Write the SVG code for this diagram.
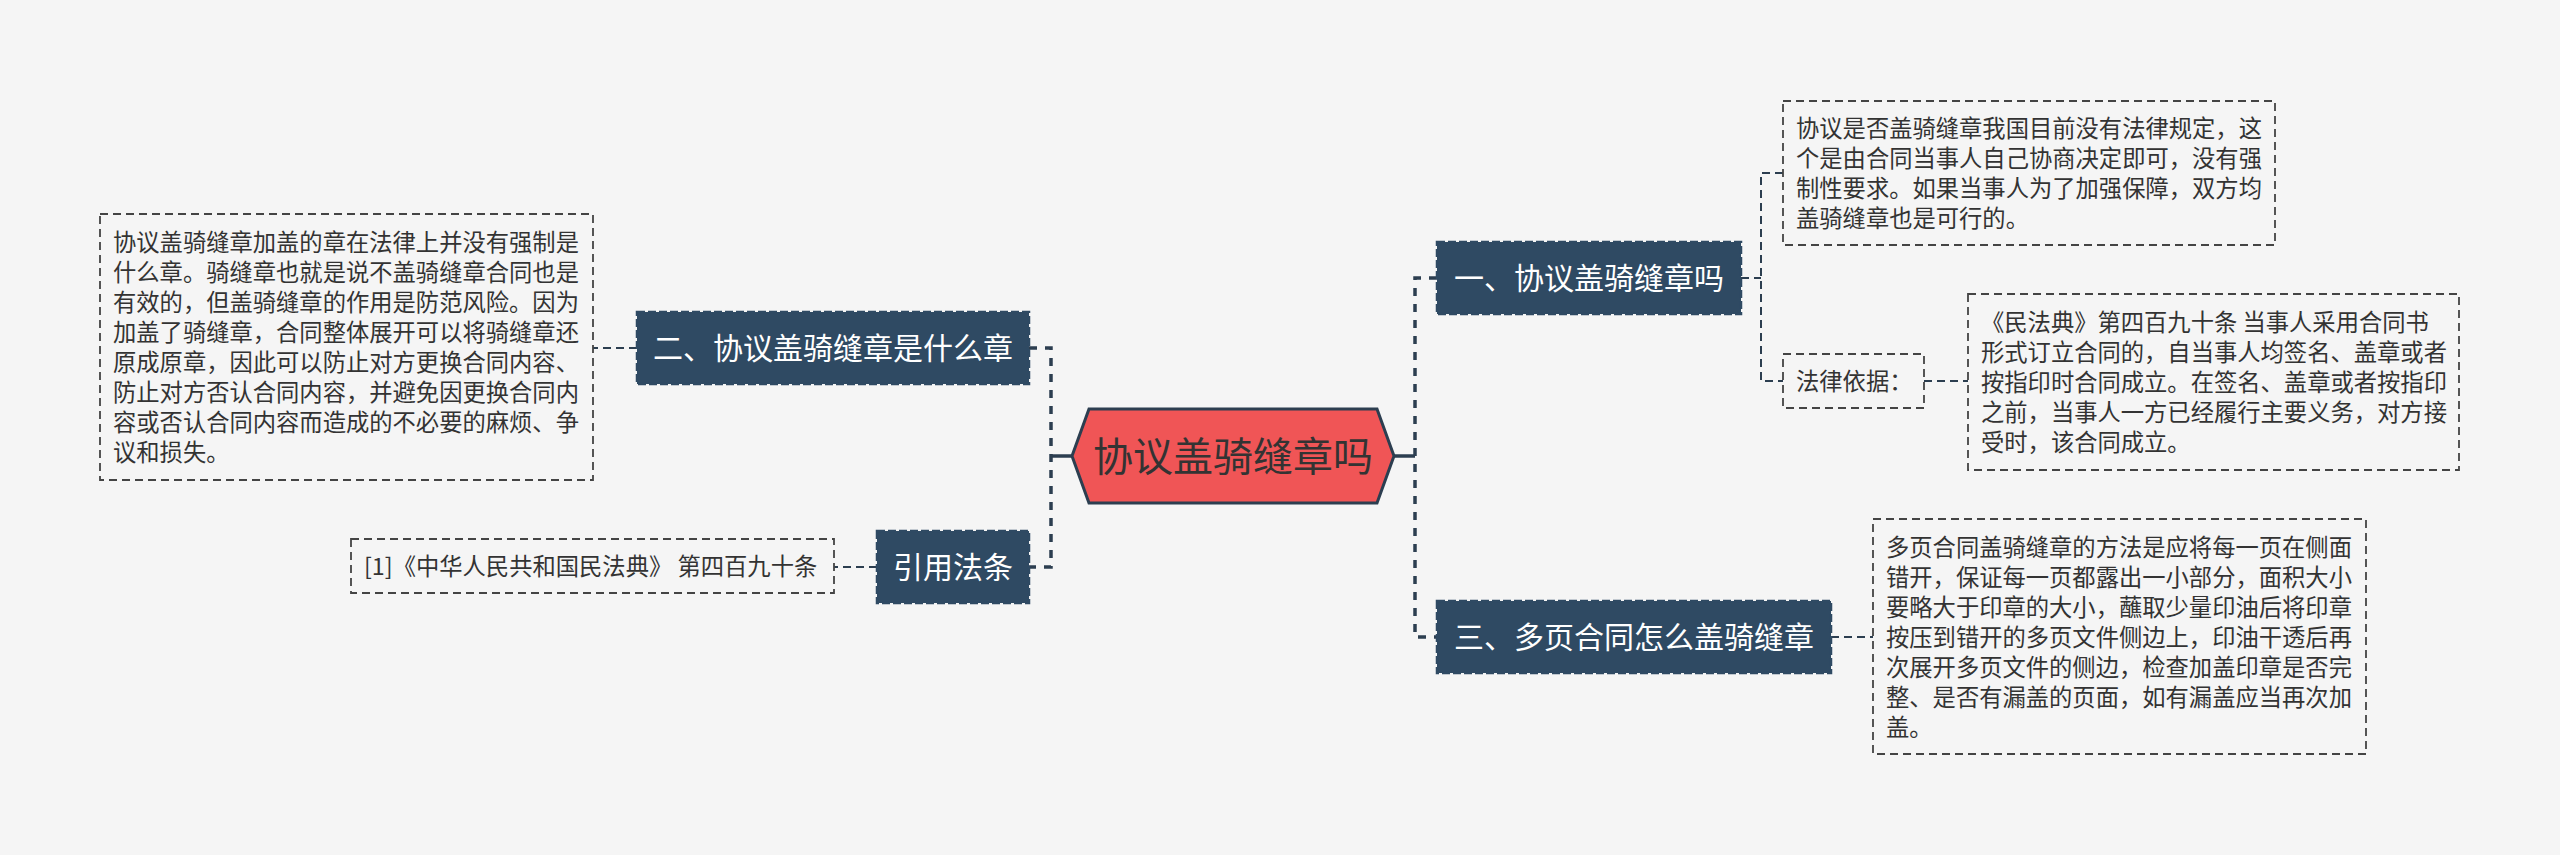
<svg xmlns="http://www.w3.org/2000/svg" width="2560" height="855" viewBox="0 0 2560 855">
<style>
.bg{fill:#F5F5F5}
.hex{fill:#F05556;stroke:#2C3E50;stroke-width:3}
.ctext{font-family:"Noto Sans CJK SC","Noto Sans",sans-serif;font-size:40px;fill:#333333;text-anchor:middle}
.n1{fill:#2F4A63;stroke:#2F4A63;stroke-width:2.5;stroke-dasharray:8 3}
.n1t{font-family:"Noto Sans CJK SC","Noto Sans",sans-serif;font-size:30px;fill:#FFFFFF;text-anchor:middle}
.box{fill:none;stroke:#444444;stroke-width:1.8;stroke-dasharray:8 5}
.bt{font-family:"Noto Sans CJK SC","Noto Sans",sans-serif;font-size:23.3px;fill:#333333}
.main{fill:none;stroke:#2C3E50;stroke-width:3.5;stroke-dasharray:8 8}
.solid{fill:none;stroke:#2C3E50;stroke-width:3.5}
.sub{fill:none;stroke:#2C3E50;stroke-width:2;stroke-dasharray:8 5}
</style>
<rect class="bg" x="0" y="0" width="2560" height="855"/>
<g id="connectors">
<path class="solid" d="M1051,456 H1072"/>
<path class="solid" d="M1394,456 H1415"/>
<path class="main" d="M1029,348 H1051 V567 H1029"/>
<path class="main" d="M1437,278 H1415 V637 H1437"/>
<path class="sub" d="M637,348 H593"/>
<path class="sub" d="M877,567 H834"/>
<path class="sub" d="M1741,278 H1761"/>
<path class="sub" d="M1783,173 H1761 V381 H1783"/>
<path class="sub" d="M1924,381 H1968"/>
<path class="sub" d="M1831,637 H1873"/>
</g>
<g id="center">
<polygon class="hex" points="1072,456 1089,409 1377,409 1394,456 1377,503 1089,503"/>
<text class="ctext" x="1233" y="471">协议盖骑缝章吗</text>
</g>
<g id="node1">
<rect class="n1" x="1437" y="242" width="304" height="72"/>
<text class="n1t" x="1589" y="289">一、协议盖骑缝章吗</text>
</g>
<g id="node2">
<rect class="n1" x="637" y="312" width="392" height="72"/>
<text class="n1t" x="833" y="359">二、协议盖骑缝章是什么章</text>
</g>
<g id="node3">
<rect class="n1" x="1437" y="601" width="394" height="72"/>
<text class="n1t" x="1634" y="648">三、多页合同怎么盖骑缝章</text>
</g>
<g id="node4">
<rect class="n1" x="877" y="531" width="152" height="72"/>
<text class="n1t" x="953" y="578">引用法条</text>
</g>
<g id="detail2">
<rect class="box" x="100" y="214" width="493" height="266"/>
<text class="bt" x="113" y="251">协议盖骑缝章加盖的章在法律上并没有强制是</text>
<text class="bt" x="113" y="281">什么章。骑缝章也就是说不盖骑缝章合同也是</text>
<text class="bt" x="113" y="311">有效的，但盖骑缝章的作用是防范风险。因为</text>
<text class="bt" x="113" y="341">加盖了骑缝章，合同整体展开可以将骑缝章还</text>
<text class="bt" x="113" y="371">原成原章，因此可以防止对方更换合同内容、</text>
<text class="bt" x="113" y="401">防止对方否认合同内容，并避免因更换合同内</text>
<text class="bt" x="113" y="431">容或否认合同内容而造成的不必要的麻烦、争</text>
<text class="bt" x="113" y="461">议和损失。</text>
</g>
<g id="ref">
<rect class="box" x="351" y="539" width="483" height="54"/>
<text class="bt" x="364" y="575">[1]《中华人民共和国民法典》 第四百九十条</text>
</g>
<g id="detail1">
<rect class="box" x="1783" y="101" width="492" height="144"/>
<text class="bt" x="1796" y="137">协议是否盖骑缝章我国目前没有法律规定，这</text>
<text class="bt" x="1796" y="167">个是由合同当事人自己协商决定即可，没有强</text>
<text class="bt" x="1796" y="197">制性要求。如果当事人为了加强保障，双方均</text>
<text class="bt" x="1796" y="227">盖骑缝章也是可行的。</text>
</g>
<g id="basis">
<rect class="box" x="1783" y="354" width="141" height="54"/>
<text class="bt" x="1796" y="390">法律依据：</text>
</g>
<g id="law">
<rect class="box" x="1968" y="294" width="491" height="176"/>
<text class="bt" x="1981" y="331">《民法典》第四百九十条 当事人采用合同书</text>
<text class="bt" x="1981" y="361">形式订立合同的，自当事人均签名、盖章或者</text>
<text class="bt" x="1981" y="391">按指印时合同成立。在签名、盖章或者按指印</text>
<text class="bt" x="1981" y="421">之前，当事人一方已经履行主要义务，对方接</text>
<text class="bt" x="1981" y="451">受时，该合同成立。</text>
</g>
<g id="detail3">
<rect class="box" x="1873" y="519" width="493" height="235"/>
<text class="bt" x="1886" y="556">多页合同盖骑缝章的方法是应将每一页在侧面</text>
<text class="bt" x="1886" y="586">错开，保证每一页都露出一小部分，面积大小</text>
<text class="bt" x="1886" y="616">要略大于印章的大小，蘸取少量印油后将印章</text>
<text class="bt" x="1886" y="646">按压到错开的多页文件侧边上，印油干透后再</text>
<text class="bt" x="1886" y="676">次展开多页文件的侧边，检查加盖印章是否完</text>
<text class="bt" x="1886" y="706">整、是否有漏盖的页面，如有漏盖应当再次加</text>
<text class="bt" x="1886" y="736">盖。</text>
</g>
</svg>
